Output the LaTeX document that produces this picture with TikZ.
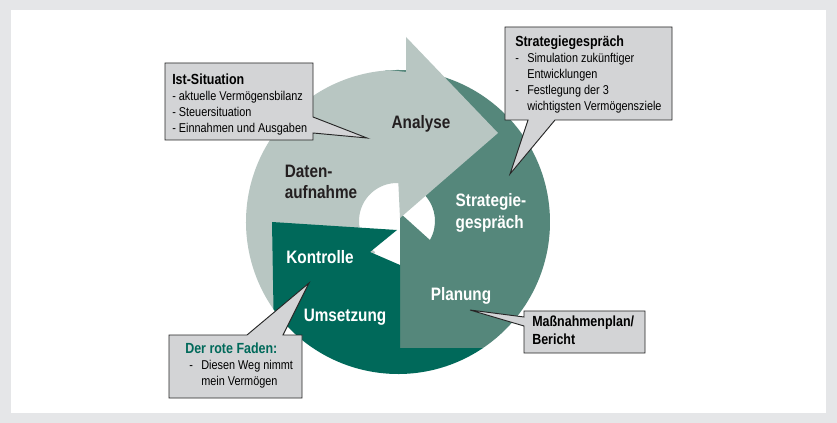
\documentclass[tikz,border=0pt]{standalone}
\usepackage{fontspec}
\setmainfont{Liberation Sans}[FakeStretch=0.85]
\usetikzlibrary{calc}

\definecolor{framegray}{HTML}{E5E6E8}
\definecolor{ringgray}{HTML}{B8C6C2}
\definecolor{ringmid}{HTML}{55877B}
\definecolor{ringdark}{HTML}{00695A}
\definecolor{bubblegray}{HTML}{D3D4D6}
\definecolor{labeldark}{HTML}{231F20}

\newcommand\bubdash{\makebox[9pt][l]{-}}
\newcommand\bubindent{\hspace*{9pt}}
\newcommand\bubhead[1]{{\fontsize{11}{12}\selectfont\bfseries #1}}

\begin{document}
\begin{tikzpicture}[%
        x = 0.75pt, y = -0.75pt,
        bubble/.style = {%
            fill = bubblegray,
            draw = black!85,
            line width = 0.7pt
        },
        bubbletext/.style = {%
            anchor = north west, inner sep = 0pt, align = left,
            font = \fontsize{9.6}{12}\selectfont
        },
        darklabel/.style = {%
            font = \fontsize{13.5}{16}\selectfont\bfseries,
            text = labeldark, align = left
        },
        lightlabel/.style = {darklabel, text = white}
    ]

        % The grey frame round the white page.
        \fill[framegray] (0,0) rectangle (837,423);
        \fill[white] (11,10) rectangle (826,413);

        % The centres of the ring and of its hole.
        \coordinate (c) at (398,222);
        \coordinate (h) at (397,221);

        % Strategiegespraech and Planung.
        \fill[ringmid] (400,213) -- ($(h)+(30:38)$)
            arc[start angle = 30, end angle = -41, radius = 38]
            -- ($(c)+(-95:152)$)
            arc[start angle = -95, end angle = 56, radius = 152]
            -- (400,348) -- cycle;

        % Datenaufnahme and Analyse, with the arrow head.
        \fill[ringgray] ($(c)+(125:152)$)
            arc[start angle = 125, end angle = 267, radius = 152]
            -- (406,72) -- (406,37) -- (498,133) -- (400,218)
            -- ($(h)+(-88:38)$)
            arc[start angle = -88, end angle = -235, radius = 38]
            -- cycle;

        % Kontrolle and Umsetzung, with the notch.
        \fill[ringdark] (272,222) -- (397,230) -- (370,252) -- (400,265)
            -- (400,348) -- ($(c)+(56:152)$)
            arc[start angle = 56, end angle = 145, radius = 152]
            -- cycle;

        % Labels on the ring.
        \node[darklabel] (analyse) at (421,124) {Analyse};
        \node[darklabel] (daten) at (321,182) {Daten-\\aufnahme};
        \node[lightlabel] (strategie) at (491,213) {Strategie-\\gespräch};
        \node[lightlabel] (kontrolle) at (320,257) {Kontrolle};
        \node[lightlabel] (planung) at (461,296) {Planung};
        \node[lightlabel] (umsetzung) at (345,317) {Umsetzung};

        % The tips of the callouts.
        \coordinate (istTip) at (367,138);
        \coordinate (strategieTip) at (510,174);
        \coordinate (fadenTip) at (309,283);
        \coordinate (planTip) at (470,310);

        % The callouts.
        \draw[bubble] (165,63) -- (313,63) -- (313,117) -- (istTip)
            -- (313,133) -- (313,140) -- (165,140) -- cycle;
        \draw[bubble] (505,27) -- (672,27) -- (672,120) -- (555,120)
            -- (strategieTip) -- (528,120) -- (505,120) -- cycle;
        \draw[bubble] (169,335) -- (247,335) -- (fadenTip) -- (283,335)
            -- (302,335) -- (302,398) -- (169,398) -- cycle;
        \draw[bubble] (524,311) -- (645,311) -- (645,353) -- (524,353)
            -- (524,326) -- (planTip) -- (524,317) -- cycle;

        % The texts in the callouts.
        \node[bubbletext] (ist) at (172,74) {%
            \bubhead{Ist-Situation}\\
            - aktuelle Vermögensbilanz\\
            - Steuersituation\\
            - Einnahmen und Ausgaben};
        \node[bubbletext] (strategiebox) at (515,36) {%
            \bubhead{Strategiegespräch}\\
            \bubdash Simulation zukünftiger\\
            \bubindent Entwicklungen\\
            \bubdash Festlegung der 3\\
            \bubindent wichtigsten Vermögensziele};
        \node[bubbletext] (faden) at (185,343) {%
            \textcolor{ringdark}{\bubhead{Der rote Faden:}}\\
            \hspace*{3pt}\bubdash Diesen Weg nimmt\\
            \hspace*{3pt}\bubindent mein Vermögen};
        \node[bubbletext, font = \fontsize{11}{13.5}\selectfont\bfseries] (plan) at (532,316) {%
            Maßnahmenplan/\\
            Bericht};
    \end{tikzpicture}
\end{document}
